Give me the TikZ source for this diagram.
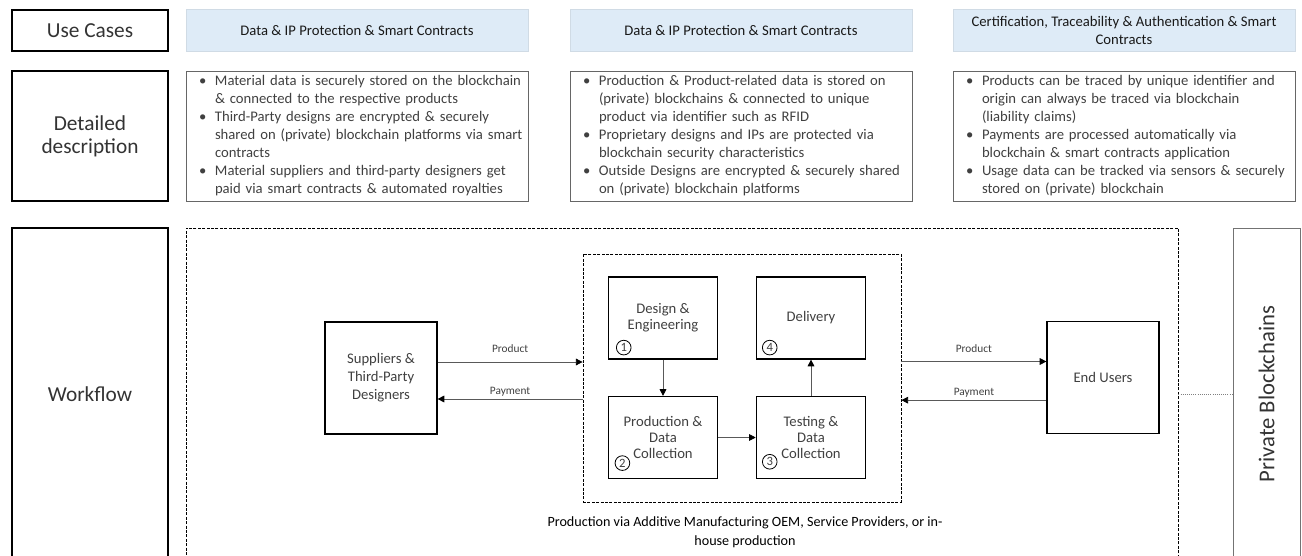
\documentclass[tikz,border=0pt]{standalone}
\usepackage{fontspec}
\setmainfont{Carlito}
\usepackage{tikz}
\usetikzlibrary{arrows.meta,positioning}
\definecolor{headblue}{HTML}{DEEBF7}
\definecolor{boxtext}{HTML}{404040}
\definecolor{linegray}{HTML}{595959}
\newcommand{\descitem}[1]{\hangindent=17.75pt\hangafter=1\noindent\makebox[17.75pt][l]{\hspace{5.75pt}\textbullet}#1\par}

\begin{document}
\begin{tikzpicture}[x=0.75pt,y=-0.75pt,
  rowhead/.style={draw,line width=0.9pt,minimum width=117pt,align=center,
    font=\fontsize{16}{17.25}\selectfont,text=black!80},
  usecase/.style={fill=headblue,draw=headblue!85!gray,minimum width=256.5pt,
    minimum height=31.5pt,align=center,font=\fontsize{11}{13.5}\selectfont,text=black!90},
  descbox/.style={draw=black!60,line width=0.6pt,minimum width=256.5pt,minimum height=97.5pt,
    text width=248.5pt,inner xsep=4pt,inner ysep=1pt,align=left,
    font=\fontsize{11}{13.5}\selectfont,text=boxtext},
  stepbox/.style={draw,line width=0.9pt,minimum width=82pt,minimum height=61.5pt,
    align=center,font=\fontsize{11}{12}\selectfont,text=boxtext},
  party/.style={stepbox,minimum width=84pt,minimum height=84pt,
    font=\fontsize{11}{13.5}\selectfont},
  zonebox/.style={draw,line width=0.6pt,dash pattern=on 2.2pt off 1.1pt},
  num/.style={circle,draw,line width=0.6pt,inner sep=0pt,minimum size=11pt,
    font=\fontsize{9.5}{9.5}\selectfont,text=boxtext},
  flow/.style={draw=linegray,line width=0.6pt,-{Triangle[length=5pt,width=5pt,color=black]}},
  tag/.style={font=\fontsize{8.5}{9}\selectfont,text=boxtext,inner sep=2pt}]
\useasboundingbox (0,0) rectangle (1302,556);

% row headers
\node[rowhead,minimum height=30.75pt] (usecases) at (90,30.5) {Use Cases};
\node[rowhead,minimum height=97.5pt] (detail) at (90,136) {Detailed\\description};
\node[rowhead,minimum height=249pt] (workflow) at (90,394) {Workflow};

% use cases
\node[usecase] (uc1) at (357,30) {Data \& IP Protection \& Smart Contracts};
\node[usecase] (uc2) at (741,30) {Data \& IP Protection \& Smart Contracts};
\node[usecase] (uc3) at (1124,30) {Certification, Traceability \& Authentication \& Smart\\Contracts};

% descriptions
\node[descbox] (desc1) at (357,136) {%
\descitem{Material data is securely stored on the blockchain\newline \& connected to the respective products}
\descitem{Third-Party designs are encrypted \& securely\newline shared on (private) blockchain platforms via smart\newline contracts}
\descitem{Material suppliers and third-party designers get\newline paid via smart contracts \& automated royalties}};
\node[descbox] (desc2) at (741,136) {%
\descitem{Production \& Product-related data is stored on\newline (private) blockchains \& connected to unique\newline product via identifier such as RFID}
\descitem{Proprietary designs and IPs are protected via\newline blockchain security characteristics}
\descitem{Outside Designs are encrypted \& securely shared\newline on (private) blockchain platforms}};
\node[descbox] (desc3) at (1124,136) {%
\descitem{Products can be traced by unique identifier and\newline origin can always be traced via blockchain\newline (liability claims)}
\descitem{Payments are processed automatically via\newline blockchain \& smart contracts application}
\descitem{Usage data can be tracked via sensors \& securely\newline stored on (private) blockchain}};

% workflow
\node[zonebox,minimum width=744pt,minimum height=249pt] (wfzone) at (682,394) {};
\node[draw=black!55,line width=0.6pt,minimum width=50.25pt,minimum height=249pt] (chain) at (1266.5,394) {};
\node[rotate=90,font=\fontsize{17}{17}\selectfont,text=black!80] (chaintext) at (chain.center) {Private Blockchains};
\draw[densely dotted,black!50,line width=0.6pt] (wfzone.east) -- (chain.west);

\node[zonebox,minimum width=238.5pt,minimum height=186pt] (zone) at (742,378) {};
\node[stepbox] (design) at (663,318) {Design \&\\Engineering};
\node[stepbox] (delivery) at (811,318) {Delivery};
\node[stepbox] (production) at (663,437.5) {Production \&\\Data\\Collection};
\node[stepbox] (testing) at (811,437.5) {Testing \&\\Data\\Collection};
\node[num] (n1) at ([xshift=12pt,yshift=9pt]design.south west) {1};
\node[num] (n4) at ([xshift=10.5pt,yshift=9pt]delivery.south west) {4};
\node[num] (n2) at ([xshift=11pt,yshift=12pt]production.south west) {2};
\node[num] (n3) at ([xshift=10.5pt,yshift=13pt]testing.south west) {3};
\draw[flow] (design) -- (production);
\draw[flow] (production) -- (testing);
\draw[flow] (testing) -- (delivery);
\node[font=\fontsize{10.6}{14}\selectfont,align=center] (caption) at (745,532.5)
  {Production via Additive Manufacturing OEM, Service Providers, or in-\\house production};

\node[party] (supp) at (381,378) {Suppliers \&\\Third-Party\\Designers};
\node[party] (users) at (1103,377.5) {End Users};
\draw[flow] ([yshift=12pt]supp.east) -- ([yshift=12pt]supp.east -| zone.west)
  node[tag,midway,above=4.5pt] {Product};
\draw[flow] ([yshift=-15.75pt]supp.east -| zone.west) -- ([yshift=-15.75pt]supp.east)
  node[tag,midway,above] {Payment};
\draw[flow] ([yshift=12pt]users.west -| zone.east) -- ([yshift=12pt]users.west)
  node[tag,midway,above=4.5pt] {Product};
\draw[flow] ([yshift=-17pt]users.west) -- ([yshift=-17pt]users.west -| zone.east)
  node[tag,midway,above] {Payment};
\end{tikzpicture}
\end{document}
